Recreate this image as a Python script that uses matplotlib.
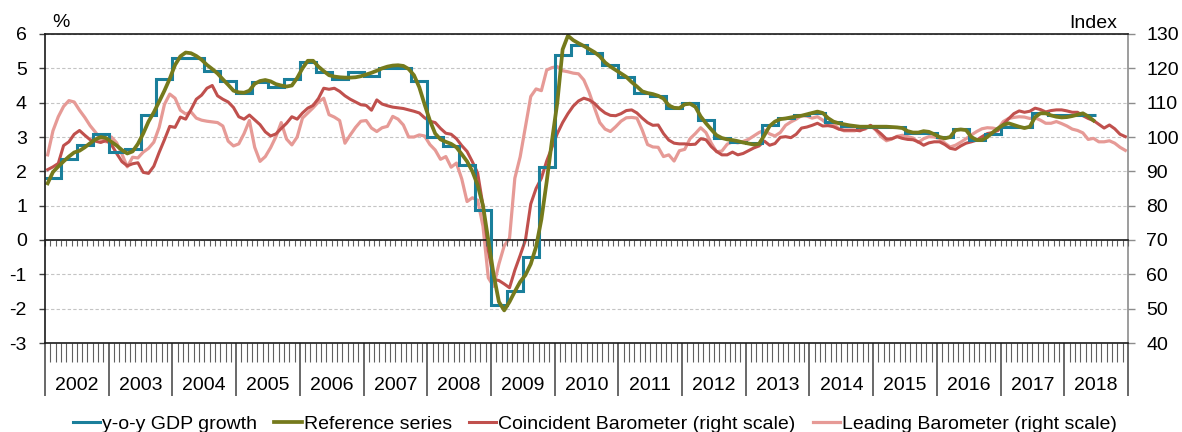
import matplotlib
matplotlib.use('Agg')
import matplotlib.pyplot as plt
import numpy as np
from matplotlib.ticker import MultipleLocator, FuncFormatter

plt.rcParams['font.family'] = ['Liberation Sans', 'DejaVu Sans']
plt.rcParams['font.size'] = 14
plt.rcParams['axes.unicode_minus'] = False

# Data (monthly from Jan 2002, GDP quarterly from 2002Q1)
first_year = 2002
years = list(range(2002, 2019))

gdp_growth = [1.8, 2.37, 2.77, 3.1,
              2.57, 2.65, 3.64, 4.69,
              5.31, 5.31, 4.93, 4.62,
              4.27, 4.61, 4.45, 4.68,
              5.19, 4.9, 4.68, 4.9,
              4.78, 5.02, 5.0, 4.62,
              3.0, 2.75, 2.18, 0.87,
              -1.9, -1.48, -0.49, 2.13,
              5.39, 5.68, 5.44, 5.1,
              4.76, 4.29, 4.19, 3.84,
              3.98, 3.5, 2.96, 2.86,
              2.82, 3.35, 3.55, 3.64,
              3.71, 3.45, 3.32, 3.3,
              3.3, 3.3, 3.12, 3.12,
              2.99, 3.22, 2.91, 3.08,
              3.3, 3.28, 3.7, 3.65,
              3.65, 3.65]

reference_series = [1.65, 1.98, 2.14, 2.29, 2.43, 2.55, 2.6, 2.7, 2.82, 2.93, 3.0, 2.97,
                    2.86, 2.75, 2.62, 2.52, 2.58, 2.8, 3.1, 3.45, 3.72, 4.03, 4.35, 4.7,
                    5.1, 5.35, 5.46, 5.44, 5.36, 5.25, 5.1, 4.98, 4.85, 4.68, 4.52, 4.35,
                    4.3, 4.29, 4.35, 4.55, 4.63, 4.66, 4.62, 4.54, 4.5, 4.47, 4.5, 4.72,
                    5.0, 5.22, 5.22, 5.05, 4.92, 4.8, 4.76, 4.74, 4.73, 4.73, 4.74, 4.77,
                    4.82, 4.87, 4.93, 5.0, 5.05, 5.08, 5.09, 5.07, 4.98, 4.8, 4.45, 3.95,
                    3.48, 3.1, 2.93, 2.86, 2.8, 2.7, 2.5, 2.29, 2.0, 1.6, 1.0, 0.0,
                    -1.0, -1.8, -2.05, -1.8, -1.5, -1.22, -1.02, -0.7, -0.2, 0.6, 1.7, 2.9,
                    4.0, 5.55, 5.95, 5.82, 5.73, 5.65, 5.56, 5.47, 5.35, 5.17, 5.05, 4.95,
                    4.85, 4.75, 4.6, 4.47, 4.33, 4.28, 4.25, 4.2, 4.12, 3.92, 3.85, 3.84,
                    3.95, 3.97, 3.88, 3.6, 3.4, 3.22, 3.05, 2.97, 2.93, 2.91, 2.88, 2.84,
                    2.81, 2.78, 2.8, 3.05, 3.32, 3.45, 3.52, 3.54, 3.57, 3.6, 3.62, 3.66,
                    3.7, 3.74, 3.7, 3.55, 3.45, 3.4, 3.37, 3.34, 3.32, 3.3, 3.3, 3.3,
                    3.3, 3.3, 3.3, 3.29, 3.28, 3.26, 3.17, 3.13, 3.13, 3.17, 3.15, 3.08,
                    3.0, 2.96, 3.0, 3.2, 3.22, 3.2, 3.0, 2.91, 2.91, 3.0, 3.13, 3.25,
                    3.35, 3.4, 3.35, 3.3, 3.26, 3.3, 3.58, 3.69, 3.69, 3.63, 3.59, 3.57,
                    3.58, 3.61, 3.65, 3.69, 3.6, 3.48]

coincident_barometer = [90.5, 91.3, 92.3, 97.5, 98.6, 100.8, 101.9, 100.5, 99.2, 98.8, 98.4, 99.0,
                        97.8, 95.2, 92.8, 91.6, 92.2, 92.5, 89.7, 89.4, 91.5, 95.5, 99.2, 103.1,
                        102.8, 105.8, 105.2, 108.0, 111.0, 112.2, 114.2, 115.0, 112.0, 111.0, 110.2, 108.6,
                        105.9, 105.2, 106.4, 105.0, 103.6, 101.5, 100.3, 100.9, 102.5, 104.0, 105.9, 105.2,
                        107.0, 108.4, 109.2, 111.2, 114.2, 113.9, 114.2, 113.3, 112.0, 111.0, 110.2, 109.4,
                        109.2, 107.8, 110.8, 109.6, 109.1, 108.7, 108.5, 108.3, 107.9, 107.5, 107.0, 105.6,
                        104.6, 104.2, 102.5, 101.1, 100.8, 99.5, 97.5, 95.8, 92.8, 89.5, 80.0, 67.0,
                        58.5, 58.2, 57.2, 56.1, 61.2, 65.5, 70.0, 80.5, 85.0, 88.0, 93.0, 97.0,
                        101.0, 104.2, 106.8, 109.0, 110.5, 111.3, 110.8, 109.8, 108.2, 107.0, 106.3, 106.2,
                        106.8, 107.7, 107.9, 107.0, 105.5, 104.2, 103.4, 103.5, 101.0, 99.1, 98.2, 98.0,
                        98.0, 97.8, 97.9, 99.5, 99.2, 97.2, 95.8, 94.8, 94.8, 95.6, 94.8, 95.2,
                        96.0, 96.8, 97.4, 98.8, 97.6, 98.1, 99.9, 100.1, 99.8, 100.8, 102.6, 102.9,
                        103.4, 104.0, 103.2, 103.3, 103.0, 102.3, 102.0, 102.0, 102.0, 101.8, 102.5, 103.4,
                        102.2, 100.9, 99.4, 99.5, 100.1, 99.6, 99.3, 99.2, 98.6, 97.6, 98.3, 98.6,
                        98.6, 97.8, 96.7, 96.4, 97.4, 98.2, 98.6, 99.1, 100.1, 101.0, 101.3, 101.9,
                        103.7, 105.3, 106.8, 107.6, 107.2, 107.5, 108.4, 108.0, 107.3, 107.7, 107.9, 107.9,
                        107.6, 107.2, 107.2, 106.2, 105.4, 104.8, 103.7, 102.6, 103.5, 102.4, 100.8, 100.1]

leading_barometer = [94.8, 101.8, 105.9, 108.9, 110.6, 110.2, 107.8, 105.7, 103.3, 101.4, 99.3, 98.6,
                     100.0, 98.3, 95.0, 91.3, 94.1, 93.9, 95.6, 96.7, 98.5, 102.8, 109.5, 112.5,
                     111.3, 107.8, 106.7, 107.3, 105.5, 104.9, 104.6, 104.4, 104.2, 103.2, 98.8, 97.4,
                     98.0, 101.0, 104.8, 97.0, 92.9, 94.3, 96.9, 100.1, 104.2, 99.4, 97.7, 100.0,
                     105.5, 107.0, 108.5, 110.2, 111.3, 106.5, 105.8, 104.8, 98.2, 100.6, 102.8, 104.6,
                     104.8, 102.6, 101.6, 102.7, 103.1, 106.0, 105.2, 103.5, 100.0, 100.0, 100.6, 100.3,
                     97.8, 96.2, 93.5, 94.3, 91.2, 92.4, 87.8, 81.2, 82.3, 81.6, 74.0, 59.0,
                     56.5, 63.0, 68.3, 70.5, 88.0, 94.2, 103.0, 111.8, 114.0, 113.5, 119.5, 120.2,
                     120.5, 119.3, 119.0, 118.6, 118.4, 116.6, 113.0, 108.5, 104.2, 102.3, 101.6, 103.0,
                     104.6, 105.6, 105.7, 105.5, 102.0, 97.8, 97.1, 97.0, 94.3, 94.8, 93.0, 96.0,
                     96.4, 99.5, 101.0, 102.7, 101.3, 98.2, 95.7, 95.9, 97.9, 98.6, 98.3, 98.7,
                     99.3, 100.3, 101.3, 102.0, 100.9, 100.3, 101.3, 103.4, 104.4, 105.2, 106.2, 106.1,
                     105.5, 105.9, 104.9, 103.5, 103.9, 102.4, 101.8, 101.8, 101.8, 102.2, 102.3, 103.3,
                     102.0, 100.1, 98.9, 99.4, 100.2, 100.5, 100.1, 99.7, 98.4, 99.5, 100.1, 100.0,
                     99.6, 98.2, 97.1, 97.6, 98.5, 99.5, 100.6, 101.6, 102.4, 102.7, 102.6, 102.3,
                     104.5, 105.4, 105.7, 105.9, 105.8, 105.4, 105.6, 104.9, 104.0, 104.0, 104.5, 103.9,
                     103.2, 102.3, 101.9, 101.2, 99.3, 99.6, 98.6, 98.6, 98.9, 98.2, 97.0, 96.1]

series_labels = ['y-o-y GDP growth', 'Reference series',
                 'Coincident Barometer (right scale)', 'Leading Barometer (right scale)']

# Figure and axes
fig = plt.figure(figsize=(11.82, 4.32), dpi=100)
ax = fig.add_axes([45 / 1182, 89 / 432, 1083 / 1182, 309 / 432])
ax2 = ax.twinx()
ax.set_zorder(ax2.get_zorder() + 1)
ax.patch.set_visible(False)

n_months = len(years) * 12

# Right scale series
x_c = np.arange(len(coincident_barometer)) + 0.5
x_l = np.arange(len(leading_barometer)) + 0.5
l4, = ax2.plot(x_l, leading_barometer, color='#E69A96', lw=2.3, label=series_labels[3])
l3, = ax2.plot(x_c, coincident_barometer, color='#C0504D', lw=2.2, label=series_labels[2])

# Left scale series
q_edges = np.arange(len(gdp_growth) + 1) * 3
l1 = ax.stairs(gdp_growth, q_edges, baseline=None, color='#1A7F9B', lw=2.2, label=series_labels[0])
x_r = np.arange(len(reference_series)) + 0.5
l2, = ax.plot(x_r, reference_series, color='#757A1C', lw=2.7, label=series_labels[1])

# Left axis
ax.set_xlim(0, n_months)
ax.set_ylim(-3, 6)
ax.set_yticks(range(-3, 7))
ax.tick_params(axis='y', direction='out', length=4.5, width=1, color='#404040', pad=8.5)

# Right axis
ax2.set_ylim(40, 130)
ax2.set_yticks(range(40, 131, 10))
ax2.tick_params(axis='y', direction='out', length=5, width=1, color='#8C8C8C', pad=8)
ax2.yaxis.grid(True, linestyle=(0, (3, 2)), color='#C4C4C4', lw=0.8)

# Spines
for s in ['left', 'top', 'bottom']:
    ax.spines[s].set_color('#1A1A1A')
    ax.spines[s].set_linewidth(1.2)
    ax2.spines[s].set_visible(False)
ax.spines['right'].set_visible(False)
ax2.spines['right'].set_color('#8C8C8C')
ax2.spines['right'].set_linewidth(1.2)

# Time axis: month ticks, year separators, year labels
ax.xaxis.set_major_locator(MultipleLocator(12))
ax.xaxis.set_minor_locator(MultipleLocator(1))
ax.xaxis.set_major_formatter(FuncFormatter(lambda v, p: ''))
ax.xaxis.set_minor_formatter(FuncFormatter(
    lambda v, p: str(first_year + int(round(v)) // 12) if int(round(v)) % 12 == 6 and v < n_months else ''))
ax.tick_params(axis='x', which='major', direction='out', length=38.5, width=1.1, color='#404040')
ax.tick_params(axis='x', which='minor', direction='out', length=13.5, width=0.8, color='#606060', pad=11)

# Zero line with month ticks
zero = ax.secondary_xaxis(0, transform=ax.transData)
zero.xaxis.set_major_locator(MultipleLocator(12))
zero.xaxis.set_minor_locator(MultipleLocator(1))
zero.tick_params(axis='x', which='both', direction='out', length=4.3, width=0.8,
                 color='#606060', labelbottom=False)
zero.spines['bottom'].set_color('#1A1A1A')
zero.spines['bottom'].set_linewidth(1.2)

# Axis unit labels
ax.text(0.0065, 1.036, '%', transform=ax.transAxes, ha='left', va='center', fontsize=14)
ax.text(0.9898, 1.033, 'Index', transform=ax.transAxes, ha='right', va='center', fontsize=14)

# Legend
fig.legend([l1, l2, l3, l4], series_labels, loc='center', bbox_to_anchor=(595 / 1182, 0.0185),
           ncol=4, frameon=False, handlelength=1.4, handletextpad=0.1, columnspacing=0.9,
           borderpad=0, borderaxespad=0, fontsize=14)

fig.savefig('out.png', dpi=100)
